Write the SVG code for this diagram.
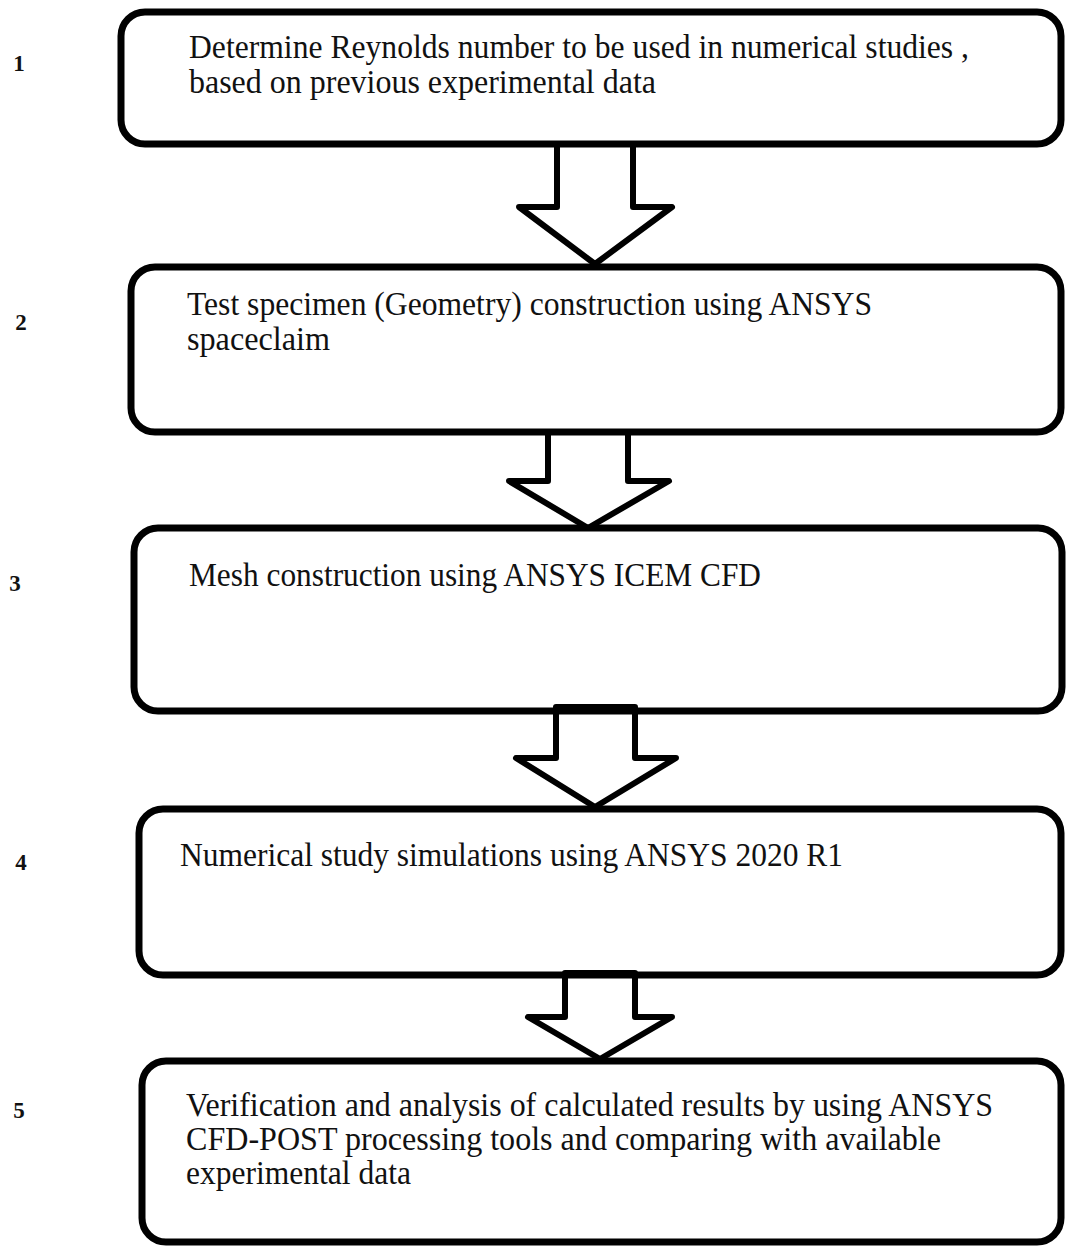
<svg xmlns="http://www.w3.org/2000/svg" width="1066" height="1247" viewBox="0 0 1066 1247">
<style>
.box{fill:#fff;stroke:#000;stroke-width:7}
.arr{fill:none;stroke:#000;stroke-width:6;stroke-linejoin:round}
.t{font-family:"Liberation Serif","Times New Roman",serif;font-size:33px;fill:#111}
.n{font-family:"Liberation Serif","Times New Roman",serif;font-size:23px;font-weight:bold;fill:#111;text-anchor:middle}
</style>
<rect width="1066" height="1247" fill="#fff"/>
<g id="step1">
<rect class="box" x="121" y="12" width="940" height="132" rx="24"/>
<text class="n" x="19" y="71">1</text>
<text class="t" x="189" y="58" textLength="780" lengthAdjust="spacingAndGlyphs">Determine Reynolds number to be used in numerical studies ,</text>
<text class="t" x="189" y="93" textLength="467" lengthAdjust="spacingAndGlyphs">based on previous experimental data</text>
</g>
<g id="step2">
<rect class="box" x="131" y="267" width="930" height="165" rx="24"/>
<text class="n" x="21" y="330">2</text>
<text class="t" x="187" y="315" textLength="685" lengthAdjust="spacingAndGlyphs">Test specimen (Geometry) construction using ANSYS</text>
<text class="t" x="187" y="350" textLength="143" lengthAdjust="spacingAndGlyphs">spaceclaim</text>
</g>
<g id="step3">
<rect class="box" x="134" y="528" width="928" height="183" rx="24"/>
<text class="n" x="15" y="591">3</text>
<text class="t" x="189" y="586" textLength="572" lengthAdjust="spacingAndGlyphs">Mesh construction using ANSYS ICEM CFD</text>
</g>
<g id="step4">
<rect class="box" x="139" y="809" width="922" height="166" rx="24"/>
<text class="n" x="21" y="870">4</text>
<text class="t" x="180" y="866" textLength="663" lengthAdjust="spacingAndGlyphs">Numerical study simulations using ANSYS 2020 R1</text>
</g>
<g id="step5">
<rect class="box" x="142" y="1061" width="919" height="181" rx="24"/>
<text class="n" x="19" y="1118">5</text>
<text class="t" x="186" y="1116" textLength="807" lengthAdjust="spacingAndGlyphs">Verification and analysis of calculated results by using ANSYS</text>
<text class="t" x="186" y="1150" textLength="755" lengthAdjust="spacingAndGlyphs">CFD-POST processing tools and comparing with available</text>
<text class="t" x="186" y="1184" textLength="225" lengthAdjust="spacingAndGlyphs">experimental data</text>
</g>
<g id="connectors">
<path class="arr" d="M557,144 L557,207 L519,207 L595,264 L672,207 L633,207 L633,144"/>
<path class="arr" d="M548,432 L548,481 L509,481 L588,528 L669,481 L628,481 L628,432"/>
<path class="arr" d="M556,707 L635,707 L635,758 L676,758 L595,807 L516,758 L556,758 Z"/>
<path class="arr" d="M565,973 L635,973 L635,1017 L672,1017 L600,1059 L528,1017 L565,1017 Z"/>
</g>
</svg>
